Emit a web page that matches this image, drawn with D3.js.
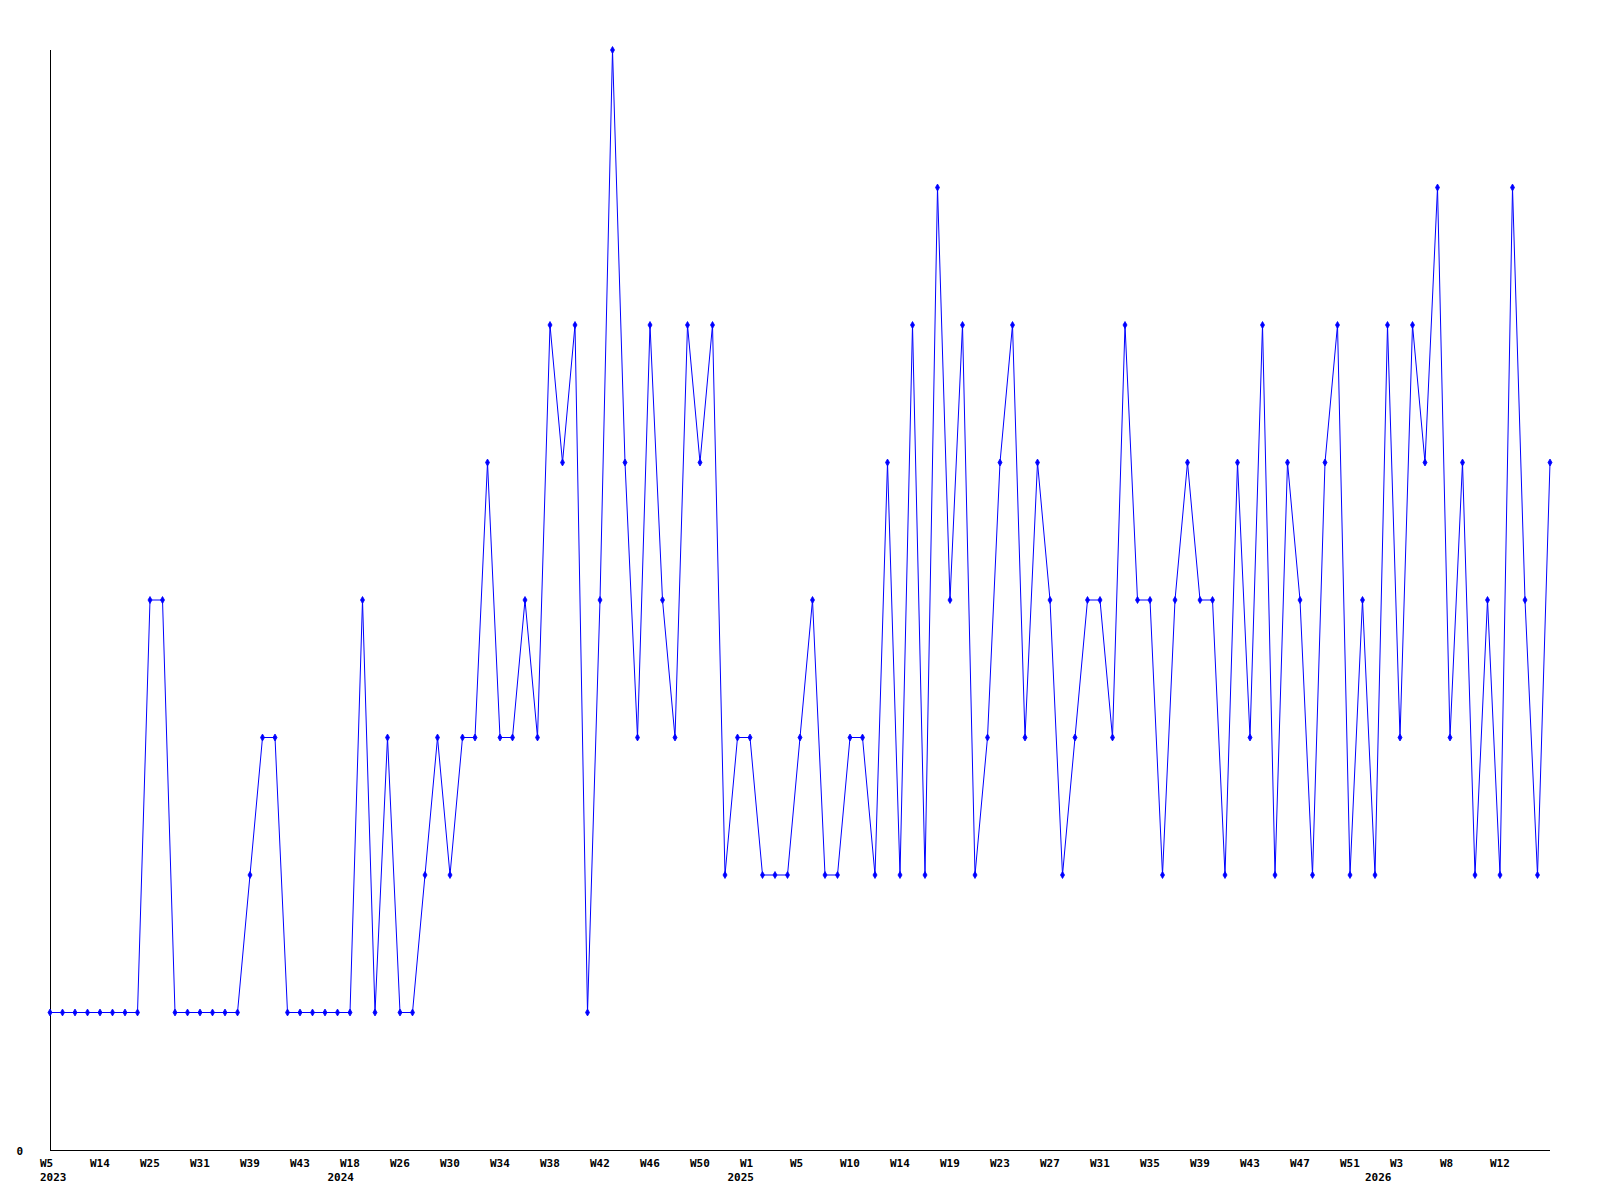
<!DOCTYPE html>
<html>
<head>
<meta charset="utf-8">
<script src="https://cdn.jsdelivr.net/npm/d3@7"></script>
<style>
  html, body { margin: 0; padding: 0; background: #fff; }
  text { font-family: "DejaVu Sans Mono", "Liberation Mono", monospace; font-weight: bold; font-size: 11px; }
</style>
</head>
<body>
<div id="app"></div>
<script>
// weekly counts, one entry per point
const values = [
  1, 1, 1, 1, 1, 1, 1, 1, 4, 4,
  1, 1, 1, 1, 1, 1, 2, 3, 3, 1,
  1, 1, 1, 1, 1, 4, 1, 3, 1, 1,
  2, 3, 2, 3, 3, 5, 3, 3, 4, 3,
  6, 5, 6, 1, 4, 8, 5, 3, 6, 4,
  3, 6, 5, 6, 2, 3, 3, 2, 2, 2,
  3, 4, 2, 2, 3, 3, 2, 5, 2, 6,
  2, 7, 4, 6, 2, 3, 5, 6, 3, 5,
  4, 2, 3, 4, 4, 3, 6, 4, 4, 2,
  4, 5, 4, 4, 2, 5, 3, 6, 2, 5,
  4, 2, 5, 6, 2, 4, 2, 6, 3, 6,
  5, 7, 3, 5, 2, 4, 2, 7, 4, 2,
  5
];

// week labels, one every 4 points
const weekLabels = [
  'W5', 'W14', 'W25', 'W31', 'W39', 'W43',
  'W18', 'W26', 'W30', 'W34', 'W38', 'W42', 'W46', 'W50',
  'W1', 'W5', 'W10', 'W14', 'W19', 'W23', 'W27', 'W31', 'W35', 'W39', 'W43', 'W47', 'W51',
  'W3', 'W8', 'W12'
];
const weekStep = 4;

// year labels and the point index where each year starts
const yearLabels = ['2023', '2024', '2025', '2026'];
const yearStart = [0, 23, 55, 106];

const yMax = 8;

const width = 1600, height = 1200;
const margin = { left: 50, right: 50, top: 50, bottom: 50 };

const svg = d3.select('#app').append('svg')
  .attr('width', width)
  .attr('height', height);

const x = d3.scaleLinear()
  .domain([0, values.length - 1])
  .range([margin.left, width - margin.right]);

const y = d3.scaleLinear()
  .domain([0, yMax])
  .range([height - margin.bottom, margin.top]);

// axes lines
svg.append('line')
  .attr('x1', x(0)).attr('x2', x(0))
  .attr('y1', y(0)).attr('y2', y(yMax))
  .attr('stroke', '#000').attr('stroke-width', 1)
  .attr('shape-rendering', 'crispEdges');

svg.append('line')
  .attr('x1', x(0)).attr('x2', x(values.length - 1))
  .attr('y1', y(0)).attr('y2', y(0))
  .attr('stroke', '#000').attr('stroke-width', 1)
  .attr('shape-rendering', 'crispEdges');

// y label (only zero)
svg.append('text')
  .attr('x', x(0) - 27)
  .attr('y', y(0) + 5)
  .attr('text-anchor', 'end')
  .text('0');

// week tick labels
svg.append('g').selectAll('text')
  .data(weekLabels)
  .join('text')
  .attr('x', (d, i) => x(i * weekStep) - 10)
  .attr('y', y(0) + 17)
  .text(d => d);

// year labels
svg.append('g').selectAll('text')
  .data(yearLabels)
  .join('text')
  .attr('x', (d, i) => x(yearStart[i]) - 10)
  .attr('y', y(0) + 31)
  .text(d => d);

// line
const line = d3.line()
  .x((d, i) => x(i))
  .y(d => y(d));

svg.append('path')
  .datum(values)
  .attr('fill', 'none')
  .attr('stroke', '#0000ff')
  .attr('stroke-width', 1)
  .attr('d', line);

// point markers
const marker = d3.symbol().type(d3.symbolDiamond).size(14);
svg.append('g').selectAll('path')
  .data(values)
  .join('path')
  .attr('transform', (d, i) => `translate(${x(i)},${y(d)})`)
  .attr('d', marker)
  .attr('fill', '#0000ff')
  .attr('stroke', '#0000ff')
  .attr('stroke-width', 0.8);
</script>
</body>
</html>
